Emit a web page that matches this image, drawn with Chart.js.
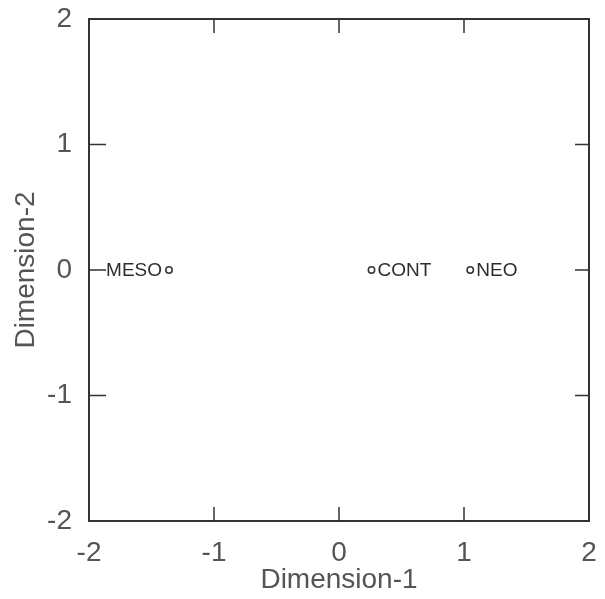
<!DOCTYPE html>
<html>
<head>
<meta charset="utf-8">
<script src="https://cdn.jsdelivr.net/npm/chart.js@4"></script>
<style>
  html, body { margin: 0; padding: 0; background: #ffffff; }
  #wrap { width: 605px; height: 599px; }
</style>
</head>
<body>
<div id="wrap"><canvas id="c" width="605" height="599"></canvas></div>
<script>
// ---- data ----
const groupNames = ['MESO', 'CONT', 'NEO'];
const dimension1 = [-1.36, 0.26, 1.05];
const dimension2 = [0.0, 0.0, 0.0];
const axisTicks = [-2, -1, 0, 1, 2];
const xTitle = 'Dimension-1';
const yTitle = 'Dimension-2';

const points = groupNames.map((n, i) => ({ x: dimension1[i], y: dimension2[i], name: n }));

const FONT = '"Liberation Sans", Arial, sans-serif';
const INK = '#333333';
const LABEL = '#555555';

const framePlugin = {
  id: 'frame',
  afterDraw(chart) {
    const { ctx, chartArea: a, scales } = chart;
    ctx.save();
    ctx.strokeStyle = INK;
    ctx.lineWidth = 2;
    ctx.strokeRect(a.left, a.top, a.right - a.left, a.bottom - a.top);
    // inward ticks on all four sides
    const L = 14;
    ctx.lineWidth = 1.5;
    ctx.beginPath();
    axisTicks.forEach(v => {
      if (v === axisTicks[0] || v === axisTicks[axisTicks.length - 1]) return;
      const px = scales.x.getPixelForValue(v);
      ctx.moveTo(px, a.bottom); ctx.lineTo(px, a.bottom - L);
      ctx.moveTo(px, a.top); ctx.lineTo(px, a.top + L);
      const py = scales.y.getPixelForValue(v);
      ctx.moveTo(a.left, py); ctx.lineTo(a.left + L + 3, py);
      ctx.moveTo(a.right, py); ctx.lineTo(a.right - L, py);
    });
    ctx.stroke();
    // point labels
    const meta = chart.getDatasetMeta(0);
    ctx.fillStyle = '#2e2e2e';
    ctx.font = '19px ' + FONT;
    ctx.textBaseline = 'middle';
    meta.data.forEach((el, i) => {
      const d = chart.data.datasets[0].data[i];
      if (d.x < 0) {
        ctx.textAlign = 'right';
        ctx.fillText(d.name, el.x - 7, el.y + 1);
      } else {
        ctx.textAlign = 'left';
        ctx.fillText(d.name, el.x + 6, el.y + 1);
      }
    });
    ctx.restore();
  }
};

new Chart(document.getElementById('c'), {
  type: 'scatter',
  data: {
    datasets: [{
      data: points,
      pointStyle: 'circle',
      pointRadius: 3.2,
      pointBorderWidth: 1.5,
      borderColor: INK,
      backgroundColor: '#ffffff'
    }]
  },
  options: {
    responsive: false,
    animation: false,
    events: [],
    layout: { padding: { left: 0, top: 19, right: 16, bottom: 0 } },
    plugins: { legend: { display: false }, tooltip: { enabled: false } },
    scales: {
      x: {
        type: 'linear', min: -2, max: 2,
        afterBuildTicks: s => { s.ticks = axisTicks.map(v => ({ value: v })); },
        afterFit: s => { s.height = 78; s.paddingLeft = 0; s.paddingRight = 0; },
        grid: { display: false }, border: { display: false },
        ticks: { color: LABEL, padding: 7, font: { family: FONT, size: 28, lineHeight: 1.2 }, maxRotation: 0 },
        title: { display: true, text: xTitle, color: LABEL, font: { family: FONT, size: 28, lineHeight: 1.2 }, padding: { top: 0, bottom: 2 } }
      },
      y: {
        type: 'linear', min: -2, max: 2,
        afterBuildTicks: s => { s.ticks = axisTicks.map(v => ({ value: v })); },
        afterFit: s => { s.width = 89; s.paddingTop = 0; s.paddingBottom = 0; },
        grid: { display: false }, border: { display: false },
        ticks: { color: LABEL, padding: 9, font: { family: FONT, size: 28, lineHeight: 1.2 } },
        title: { display: true, text: yTitle, color: LABEL, font: { family: FONT, size: 28, lineHeight: 1.2 }, padding: { top: 9, bottom: 0 } }
      }
    }
  },
  plugins: [framePlugin]
});
</script>
</body>
</html>
